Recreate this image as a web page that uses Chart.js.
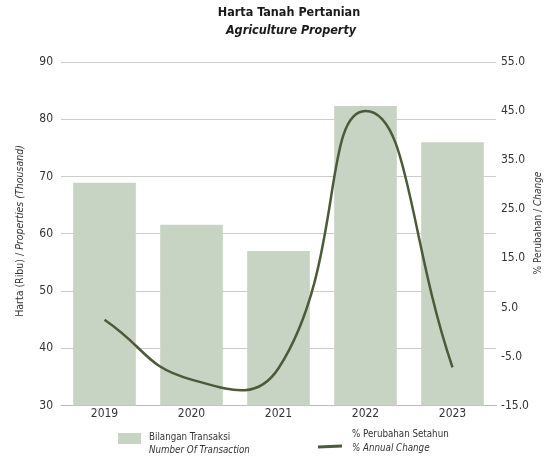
<!DOCTYPE html>
<html>
<head>
<meta charset="utf-8">
<script src="https://cdn.jsdelivr.net/npm/chart.js@4"></script>
<style>
  html, body { margin: 0; padding: 0; background: #fff; }
  #wrap { width: 547px; height: 468px; }
</style>
</head>
<body>
<div id="wrap"><canvas id="chart" width="547" height="468"></canvas></div>
<script>
const years = ['2019', '2020', '2021', '2022', '2023'];
const transactions = [68.9, 61.6, 57.0, 82.3, 76.0];   // thousand
const annualChange = [2.5, -9.7, -7.4, 45.0, -7.2];     // %

const FONT = "'Liberation Sans Narrow', 'DejaVu Sans Condensed', 'Liberation Sans', sans-serif";
const barColor = '#c8d4c3';
const lineColor = '#4b5a39';
const textColor = '#333';

// title, axis titles and legend (mixed italic text)
const extras = {
  id: 'extras',
  afterDraw(chart) {
    const ctx = chart.ctx;
    ctx.save();
    ctx.fillStyle = textColor;
    ctx.textBaseline = 'middle';

    function mixed(parts, x, y, align) {
      let total = 0;
      parts.forEach(p => { ctx.font = p[1]; total += ctx.measureText(p[0]).width; });
      let cx = align === 'center' ? x - total / 2 : x;
      parts.forEach(p => {
        ctx.font = p[1];
        ctx.textAlign = 'left';
        ctx.fillText(p[0], cx, y);
        cx += ctx.measureText(p[0]).width;
      });
    }

    // chart title
    ctx.fillStyle = '#1a1a1a';
    mixed([['Harta Tanah Pertanian', 'bold 12.5px ' + FONT]], 289, 13, 'center');
    mixed([['Agriculture Property', 'italic bold 12.5px ' + FONT]], 291, 31, 'center');
    ctx.fillStyle = textColor;

    // left axis title
    const n = '10.5px ' + FONT, it = 'italic 10.5px ' + FONT;
    ctx.save();
    ctx.translate(20, 231);
    ctx.rotate(-Math.PI / 2);
    mixed([['Harta (Ribu) / ', n], ['Properties (Thousand)', it]], 0, 0, 'center');
    ctx.restore();
    // right axis title
    const rn = '10px ' + FONT, ri = 'italic 10px ' + FONT;
    ctx.save();
    ctx.translate(538, 223);
    ctx.rotate(-Math.PI / 2);
    mixed([['% Perubahan / ', rn], ['Change', ri]], 0, 0, 'center');
    ctx.restore();

    // legend
    const ln = '9.7px ' + FONT, li = 'italic 9.7px ' + FONT;
    ctx.fillStyle = barColor;
    ctx.fillRect(118, 433, 23, 11);
    ctx.strokeStyle = lineColor;
    ctx.lineWidth = 3;
    ctx.beginPath();
    ctx.moveTo(318, 447);
    ctx.lineTo(342, 446);
    ctx.stroke();
    ctx.fillStyle = textColor;
    mixed([['Bilangan Transaksi', ln]], 149, 437, 'left');
    mixed([['Number Of Transaction', li]], 149, 450, 'left');
    mixed([['% Perubahan Setahun', ln]], 352, 434, 'left');
    mixed([['% Annual Change', li]], 352, 448, 'left');
    ctx.restore();
  }
};

new Chart(document.getElementById('chart').getContext('2d'), {
  data: {
    labels: years,
    datasets: [
      {
        type: 'line',
        label: '% Perubahan Setahun',
        data: annualChange,
        yAxisID: 'y1',
        borderColor: lineColor,
        borderWidth: 2.5,
        pointRadius: 0,
        tension: 0.5,
        order: 0
      },
      {
        type: 'bar',
        label: 'Bilangan Transaksi',
        data: transactions,
        yAxisID: 'y',
        backgroundColor: barColor,
        barPercentage: 0.72,
        categoryPercentage: 1,
        order: 1
      }
    ]
  },
  options: {
    responsive: false,
    animation: false,
    layout: { padding: { left: 0, right: 0, top: 62, bottom: 46 } },
    plugins: {
      legend: { display: false },
      tooltip: { enabled: false },
      title: { display: false }
    },
    scales: {
      x: {
        grid: { display: false, drawTicks: false },
        border: { color: '#bbb' },
        ticks: { color: textColor, font: { family: FONT, size: 12 }, padding: 1 }
      },
      y: {
        position: 'left',
        min: 30, max: 90,
        ticks: { stepSize: 10, color: textColor, font: { family: FONT, size: 12 }, padding: 8 },
        grid: { color: '#cccccc', drawTicks: false },
        border: { display: false },
        afterFit: s => { s.width = 61; }
      },
      y1: {
        position: 'right',
        min: -15, max: 55,
        ticks: {
          stepSize: 10, color: textColor, font: { family: FONT, size: 12 }, padding: 5,
          callback: v => v.toFixed(1)
        },
        grid: { display: false, drawTicks: false },
        border: { display: false },
        afterFit: s => { s.width = 51; }
      }
    }
  },
  plugins: [extras]
});
</script>
</body>
</html>
